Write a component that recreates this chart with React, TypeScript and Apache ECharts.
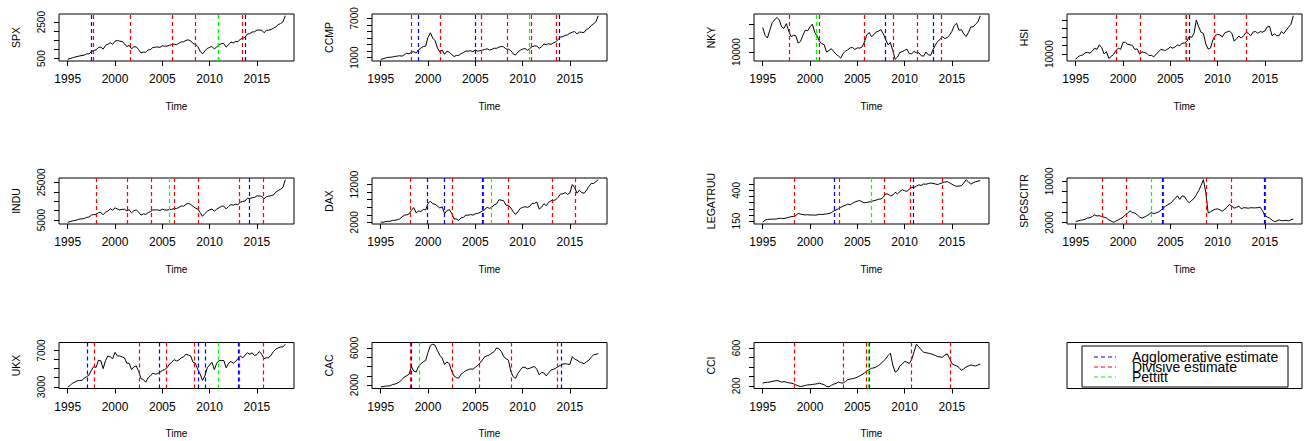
import React, { useEffect, useRef } from "react";
import * as echarts from "echarts";

// ---------- data (quarterly, 1995.00 ... 2018.00) ----------
const START_YEAR = 1995;
const STEP = 0.25;
const X_TICKS = [1995, 2000, 2005, 2010, 2015];

const SPX = [
  465, 501, 545, 584, 616, 645, 671, 687, 766, 757, 885, 947, 980, 1108, 1133, 1017,
  1229, 1286, 1373, 1283, 1455, 1499, 1455, 1436, 1320, 1160, 1224, 1040, 1148, 1147, 990, 815,
  856, 848, 975, 996, 1112, 1126, 1140, 1114, 1202, 1180, 1191, 1228, 1268, 1295, 1270, 1335,
  1418, 1420, 1503, 1527, 1468, 1322, 1280, 1166, 903, 760, 919, 1057, 1115, 1169, 1030, 1141,
  1257, 1325, 1320, 1131, 1257, 1408, 1362, 1440, 1426, 1569, 1606, 1681, 1848, 1872, 1960, 1972,
  2058, 2067, 2063, 1920, 2043, 2059, 2098, 2168, 2238, 2362, 2423, 2519, 2850,
];
const CCMP = [
  750, 820, 935, 1045, 1050, 1100, 1190, 1225, 1290, 1220, 1440, 1680, 1580, 1840, 1900, 1690,
  2190, 2460, 2700, 2750, 4100, 4800, 3970, 3600, 2470, 1840, 2160, 1500, 1980, 1850, 1460, 1170,
  1340, 1340, 1620, 1790, 2000, 1990, 2050, 1900, 2180, 1980, 2060, 2150, 2240, 2350, 2170, 2260,
  2430, 2420, 2600, 2700, 2650, 2280, 2290, 2080, 1580, 1400, 1840, 2120, 2290, 2400, 2110, 2370,
  2690, 2780, 2770, 2420, 2650, 3090, 2950, 3120, 3020, 3260, 3400, 3770, 4160, 4200, 4410, 4490,
  4730, 4880, 4990, 4620, 4900, 4870, 4840, 5310, 5470, 5910, 6140, 6500, 7400,
];
const NKY = [
  18800, 16000, 15000, 17800, 20500, 21500, 22400, 21500, 19000, 18500, 20200, 17500, 15500, 16000, 15800, 13200,
  13800, 16000, 17800, 17600, 19000, 20000, 17000, 15800, 13800, 13000, 12600, 10000, 10500, 11200, 10200, 9200,
  8600, 7800, 9500, 10300, 10800, 11500, 11600, 10900, 11500, 11400, 11800, 13500, 16100, 17000, 15500, 16200,
  17200, 17500, 18000, 16500, 14500, 12600, 13400, 10500, 7400, 8200, 9900, 10100, 10600, 11000, 9400, 9400,
  10200, 9700, 9800, 8700, 8500, 10000, 9000, 8800, 10800, 12500, 13800, 14500, 15500, 14800, 15200, 16000,
  17400, 19500, 20300, 17800, 18000, 16500, 15500, 17000, 19000, 19000, 20000, 20800, 23000,
];
const HSI = [
  7000, 8500, 9200, 9500, 10800, 11000, 10600, 11800, 13500, 12800, 15500, 13800, 10100, 11400, 7500, 8700,
  9800, 12100, 13500, 12800, 16900, 17000, 15800, 15500, 15000, 12800, 13100, 10000, 11300, 11000, 10500, 9100,
  9300, 8500, 9800, 11400, 12800, 12400, 12200, 13100, 14200, 13500, 14200, 15400, 15000, 16300, 16500, 17500,
  20300, 19800, 22100, 30000, 26000, 22800, 22100, 16000, 13000, 13600, 18300, 20900, 21600, 21200, 20100, 22400,
  23000, 23500, 22300, 17600, 19000, 20600, 19400, 20800, 22700, 22300, 20800, 22900, 23300, 22200, 23200, 22900,
  23600, 26000, 26200, 20800, 21900, 20800, 20800, 23300, 22000, 24100, 25800, 27500, 32500,
];
const INDU = [
  3840, 4200, 4560, 4790, 5120, 5590, 5650, 5880, 6450, 6580, 7670, 7950, 7910, 9060, 8950, 7850,
  9180, 9790, 10970, 10340, 11500, 10900, 10450, 10650, 10790, 9880, 10500, 8850, 10020, 10400, 9240, 7590,
  8340, 7990, 9000, 9470, 10450, 10360, 10440, 10080, 10780, 10400, 10300, 10570, 10720, 11110, 11150, 11680,
  12460, 12350, 13400, 13900, 13260, 12260, 11380, 10830, 9030, 7000, 8500, 9710, 10430, 10850, 9770, 10790,
  11580, 12320, 12410, 10910, 12220, 13210, 12880, 13440, 13100, 14580, 14910, 15130, 16580, 16460, 16830, 17040,
  17820, 17780, 17620, 16280, 17430, 17690, 17930, 18310, 19760, 20700, 21350, 22400, 26400,
];
const DAX = [
  2070, 2000, 2180, 2250, 2290, 2490, 2540, 2650, 2900, 3400, 3900, 3950, 4250, 5150, 5900, 4500,
  5000, 4900, 5400, 5300, 7000, 7600, 6900, 6800, 6300, 5800, 6100, 4300, 5100, 5350, 4400, 2900,
  2900, 2500, 3200, 3300, 3950, 3850, 4050, 3900, 4260, 4350, 4600, 5050, 5400, 5970, 5700, 6000,
  6600, 6900, 8000, 7860, 7700, 6530, 6480, 5830, 4810, 4080, 4810, 5670, 5950, 6150, 5960, 6230,
  6990, 7040, 7380, 5500, 6000, 6950, 6400, 7300, 7700, 7800, 7960, 8600, 9500, 9550, 9900, 9400,
  9800, 12000, 11200, 9700, 10500, 9900, 9700, 10500, 11500, 12300, 12300, 12800, 13300,
];
const LEGATRUU = [
  140, 158, 163, 165, 166, 165, 168, 172, 172, 170, 176, 180, 186, 188, 195, 212,
  207, 203, 200, 202, 199, 200, 198, 200, 205, 203, 206, 208, 212, 218, 232, 240,
  250, 262, 272, 278, 289, 282, 295, 305, 312, 318, 306, 300, 302, 305, 310, 316,
  321, 328, 330, 345, 372, 370, 356, 362, 384, 372, 390, 405, 397, 392, 410, 425,
  424, 435, 445, 440, 452, 450, 455, 460, 457, 452, 448, 455, 462, 468, 471, 462,
  450, 440, 433, 436, 438, 460, 487, 470, 450, 462, 470, 475, 480,
];
const SPGSCITR = [
  2200, 2350, 2450, 2550, 2670, 2900, 2950, 3200, 3500, 3300, 3350, 3200, 3070, 2900, 2530, 2300,
  2070, 2300, 2530, 2800, 3070, 3500, 3870, 4300, 3950, 3870, 3530, 3100, 2870, 3100, 3330, 3600,
  4000, 3730, 3900, 4070, 4400, 4800, 5200, 5500, 5730, 6200, 6670, 7200, 6530, 7200, 7070, 6300,
  5870, 6300, 6670, 7400, 8200, 9200, 10330, 7870, 3870, 4100, 4400, 4600, 4670, 4500, 4200, 4600,
  5000, 5530, 5200, 4800, 5000, 5200, 4700, 4900, 4870, 4800, 4900, 4870, 4870, 4900, 5000, 4300,
  3330, 3100, 2870, 2500, 2200, 2300, 2530, 2400, 2400, 2450, 2350, 2550, 2700,
];
const UKX = [
  3000, 3140, 3400, 3510, 3660, 3700, 3710, 3950, 4120, 4300, 4810, 5240, 5140, 5930, 5870, 5000,
  5900, 6400, 6300, 6100, 6800, 6400, 6400, 6300, 6200, 5600, 5600, 4900, 5200, 5300, 4700, 3900,
  3800, 3500, 4000, 4200, 4500, 4400, 4450, 4600, 4800, 4900, 5100, 5500, 5700, 6000, 5850, 5950,
  6200, 6300, 6600, 6500, 6400, 5700, 5600, 4900, 4400, 3700, 4200, 5100, 5400, 5700, 4900, 5600,
  5900, 5900, 5900, 5100, 5600, 5800, 5600, 5800, 6100, 6400, 6200, 6500, 6750, 6600, 6750, 6450,
  6550, 6900, 6600, 6100, 6200, 6200, 6500, 6900, 7150, 7300, 7400, 7400, 7700,
];
const CAC = [
  1810, 1830, 1880, 1900, 1920, 2050, 2100, 2200, 2340, 2600, 2870, 3000, 3170, 4000, 3500, 3400,
  4000, 4300, 4500, 4650, 5500, 6260, 6400, 6300, 5700, 5200, 4900, 4200, 4490, 4300, 3500, 2980,
  2800, 2750, 3170, 3350, 3550, 3650, 3740, 3700, 3920, 4100, 4380, 4700, 5060, 5150, 5250, 5450,
  5620, 6000, 5900, 5620, 5060, 4850, 4680, 3500, 2900, 2720, 3250, 3600, 3920, 3900, 3740, 3800,
  3920, 4000, 3700, 3100, 3360, 3300, 2980, 3300, 3620, 3700, 3810, 4000, 4110, 4250, 4300, 4250,
  4220, 5060, 4800, 4680, 4490, 4400, 4300, 4500, 4680, 5000, 5250, 5300, 5400,
];
const CCI = [
  229, 235, 238, 240, 247, 252, 255, 250, 240, 245, 238, 232, 229, 222, 211, 200,
  193, 198, 204, 210, 211, 215, 218, 222, 229, 220, 211, 195, 190, 205, 218, 225,
  240, 232, 229, 245, 265, 272, 276, 282, 291, 305, 320, 335, 356, 372, 385, 390,
  400, 415, 436, 460, 484, 520, 545, 420, 345, 360, 411, 430, 458, 450, 436, 480,
  560, 640, 611, 580, 556, 550, 545, 540, 531, 520, 509, 505, 502, 525, 538, 490,
  436, 420, 411, 395, 364, 380, 400, 410, 420, 415, 410, 420, 430,
];

// y-axis ticks and which of them carry a label
const SPX_TICKS = [500, 1000, 1500, 2000, 2500];
const SPX_LABELS = [500, 2500];
const CCMP_TICKS = [1000, 2000, 3000, 4000, 5000, 6000, 7000];
const CCMP_LABELS = [1000, 7000];
const NKY_TICKS = [10000, 15000, 20000];
const NKY_LABELS = [10000];
const HSI_TICKS = [10000, 15000, 20000, 25000, 30000];
const HSI_LABELS = [10000];
const INDU_TICKS = [5000, 10000, 15000, 20000, 25000];
const INDU_LABELS = [5000, 25000];
const DAX_TICKS = [2000, 4000, 6000, 8000, 10000, 12000];
const DAX_LABELS = [2000, 12000];
const LEGATRUU_TICKS = [150, 200, 250, 300, 350, 400, 450];
const LEGATRUU_LABELS = [150, 400];
const SPGSCITR_TICKS = [2000, 4000, 6000, 8000, 10000];
const SPGSCITR_LABELS = [2000, 10000];
const UKX_TICKS = [3000, 4000, 5000, 6000, 7000];
const UKX_LABELS = [3000, 7000];
const CAC_TICKS = [2000, 3000, 4000, 5000, 6000];
const CAC_LABELS = [2000, 6000];
const CCI_TICKS = [200, 300, 400, 500, 600];
const CCI_LABELS = [200, 600];

// break dates: agglomerative (blue), divisive (red), Pettitt (green)
const SPX_AGG = [1997.54, 2013.77];
const SPX_DIV = [1997.75, 2001.63, 2006.04, 2008.47, 2010.9, 2013.45];
const SPX_PET = [2010.93];
const CCMP_AGG = [1998.96, 2004.95, 2013.83];
const CCMP_DIV = [1998.19, 2001.27, 2005.65, 2008.35, 2010.9, 2013.58];
const CCMP_PET = [2010.68];
const NKY_AGG = [2008.0, 2013.06];
const NKY_DIV = [1997.79, 2001.0, 2005.74, 2008.78, 2011.32, 2013.83];
const NKY_PET = [2000.69];
const HSI_AGG = [2006.96];
const HSI_DIV = [1999.25, 2001.8, 2006.68, 2009.62, 2013.02];
const HSI_PET = [2006.54];
const INDU_AGG = [2014.15];
const INDU_DIV = [1998.07, 2001.25, 2003.83, 2006.27, 2008.82, 2013.16, 2015.67];
const INDU_PET = [2005.78];
const DAX_AGG = [1999.97, 2001.67, 2005.76];
const DAX_DIV = [1998.14, 2002.55, 2005.83, 2008.47, 2013.17, 2015.56];
const DAX_PET = [2006.64];
const LEGATRUU_AGG = [2002.53, 2010.9];
const LEGATRUU_DIV = [1998.29, 2003.06, 2007.9, 2010.58, 2014.01];
const LEGATRUU_PET = [2006.52];
const SPGSCITR_AGG = [2004.2, 2014.97];
const SPGSCITR_DIV = [1997.83, 2000.31, 2004.27, 2008.8, 2011.39, 2014.99];
const SPGSCITR_PET = [2002.96];
const UKX_AGG = [1997.05, 2004.63, 2008.76, 2009.5, 2013.06];
const UKX_DIV = [1997.82, 2002.51, 2005.41, 2008.4, 2013.08, 2015.63];
const UKX_PET = [2010.87];
const CAC_AGG = [1998.25, 2014.12];
const CAC_DIV = [1998.14, 2002.55, 2005.44, 2008.76, 2013.69];
const CAC_PET = [1999.06];
const CCI_AGG = [2006.31];
const CCI_DIV = [1998.29, 2003.52, 2005.95, 2010.72, 2014.82];
const CCI_PET = [2006.17];

const LEGEND_LABELS = ["Agglomerative estimate", "Divisive estimate", "Pettitt"];

type Panel = {
  name: string;
  values: number[];
  ticks: number[];
  labels: number[];
  agg: number[];
  div: number[];
  pet: number[];
};

const PANELS: Panel[] = [
  { name: "SPX", values: SPX, ticks: SPX_TICKS, labels: SPX_LABELS, agg: SPX_AGG, div: SPX_DIV, pet: SPX_PET },
  { name: "CCMP", values: CCMP, ticks: CCMP_TICKS, labels: CCMP_LABELS, agg: CCMP_AGG, div: CCMP_DIV, pet: CCMP_PET },
  { name: "NKY", values: NKY, ticks: NKY_TICKS, labels: NKY_LABELS, agg: NKY_AGG, div: NKY_DIV, pet: NKY_PET },
  { name: "HSI", values: HSI, ticks: HSI_TICKS, labels: HSI_LABELS, agg: HSI_AGG, div: HSI_DIV, pet: HSI_PET },
  { name: "INDU", values: INDU, ticks: INDU_TICKS, labels: INDU_LABELS, agg: INDU_AGG, div: INDU_DIV, pet: INDU_PET },
  { name: "DAX", values: DAX, ticks: DAX_TICKS, labels: DAX_LABELS, agg: DAX_AGG, div: DAX_DIV, pet: DAX_PET },
  { name: "LEGATRUU", values: LEGATRUU, ticks: LEGATRUU_TICKS, labels: LEGATRUU_LABELS, agg: LEGATRUU_AGG, div: LEGATRUU_DIV, pet: LEGATRUU_PET },
  { name: "SPGSCITR", values: SPGSCITR, ticks: SPGSCITR_TICKS, labels: SPGSCITR_LABELS, agg: SPGSCITR_AGG, div: SPGSCITR_DIV, pet: SPGSCITR_PET },
  { name: "UKX", values: UKX, ticks: UKX_TICKS, labels: UKX_LABELS, agg: UKX_AGG, div: UKX_DIV, pet: UKX_PET },
  { name: "CAC", values: CAC, ticks: CAC_TICKS, labels: CAC_LABELS, agg: CAC_AGG, div: CAC_DIV, pet: CAC_PET },
  { name: "CCI", values: CCI, ticks: CCI_TICKS, labels: CCI_LABELS, agg: CCI_AGG, div: CCI_DIV, pet: CCI_PET },
];

// ---------- layout / style ----------
const FONT = "'Liberation Sans', Arial, Helvetica, sans-serif";
const COL_LEFT = [59, 372, 754, 1067];
const ROW_TOP = [14, 178, 342.5];
const ROW_H = [47, 46, 46];
const BOX_W = 235;
const BLUE = "#0000FF";
const RED = "#FF0000";
const GREEN = "#00FF00";
const DASH = [4, 3];
const plain = (v: number) => String(v);

function buildOption() {
  const nPts = SPX.length;
  const tEnd = START_YEAR + (nPts - 1) * STEP;
  const span = tEnd - START_YEAR;
  const xMin = START_YEAR - 0.04 * span;
  const xMax = tEnd + 0.04 * span;

  const grid: any[] = [];
  const xAxis: any[] = [];
  const yAxis: any[] = [];
  const series: any[] = [];

  PANELS.forEach((p, i) => {
    const r = Math.floor(i / 4);
    const c = i % 4;
    grid.push({
      left: COL_LEFT[c],
      top: ROW_TOP[r],
      width: BOX_W,
      height: ROW_H[r],
      show: true,
      borderColor: "#000",
      borderWidth: 1,
      backgroundColor: "transparent",
    });
    const lo = Math.min(...p.values);
    const hi = Math.max(...p.values);
    const pad = 0.04 * (hi - lo);
    xAxis.push({
      gridIndex: i,
      type: "value",
      min: xMin,
      max: xMax,
      axisLine: { show: false },
      axisTick: { show: true, length: 5, customValues: X_TICKS, lineStyle: { color: "#000", width: 1 } },
      axisLabel: { customValues: X_TICKS, formatter: plain, margin: 12, fontSize: 12, color: "#000", fontFamily: FONT },
      splitLine: { show: false },
      name: "Time",
      nameLocation: "middle",
      nameGap: 40,
      nameTextStyle: { fontSize: 10, color: "#000", fontFamily: FONT },
    });
    yAxis.push({
      gridIndex: i,
      type: "value",
      min: lo - pad,
      max: hi + pad,
      axisLine: { show: false },
      axisTick: { show: true, length: 5, customValues: p.ticks, lineStyle: { color: "#000", width: 1 } },
      axisLabel: {
        customValues: p.labels,
        formatter: plain,
        rotate: 90,
        margin: 13,
        fontSize: 10,
        color: "#000",
        fontFamily: FONT,
      },
      splitLine: { show: false },
      name: p.name,
      nameLocation: "middle",
      nameGap: 38,
      nameTextStyle: { fontSize: 10.5, color: "#000", fontFamily: FONT },
    });
    const marks: any[] = [];
    p.div.forEach((t) => marks.push({ xAxis: t, lineStyle: { color: RED } }));
    p.agg.forEach((t) => marks.push({ xAxis: t, lineStyle: { color: BLUE } }));
    p.pet.forEach((t) => marks.push({ xAxis: t, lineStyle: { color: GREEN } }));
    series.push({
      type: "line",
      xAxisIndex: i,
      yAxisIndex: i,
      data: p.values.map((v, k) => [START_YEAR + k * STEP, v]),
      showSymbol: false,
      symbol: "none",
      silent: true,
      lineStyle: { color: "#000", width: 1 },
      markLine: {
        silent: true,
        symbol: ["none", "none"],
        label: { show: false },
        lineStyle: { type: DASH, width: 1.2 },
        data: marks,
      },
    });
  });

  // legend panel (bottom-right)
  const lx1 = 1094;
  const lx2 = 1116;
  const ly = [357, 367, 377];
  const colors = [BLUE, RED, GREEN];
  const graphic: any[] = [
    {
      type: "rect",
      shape: { x: COL_LEFT[3], y: ROW_TOP[2], width: BOX_W, height: ROW_H[2] },
      style: { fill: "none", stroke: "#000", lineWidth: 1 },
    },
    {
      type: "rect",
      shape: { x: 1082, y: 346, width: 206, height: 41 },
      style: { fill: "#fff", stroke: "#000", lineWidth: 1 },
    },
  ];
  LEGEND_LABELS.forEach((txt, k) => {
    graphic.push({
      type: "line",
      shape: { x1: lx1, y1: ly[k], x2: lx2, y2: ly[k] },
      style: { stroke: colors[k], lineWidth: 1.2, lineDash: DASH },
    });
    graphic.push({
      type: "text",
      x: 1132,
      y: ly[k],
      style: { text: txt, fontSize: 14, fill: "#000", fontFamily: FONT, verticalAlign: "middle", align: "left" },
    });
  });

  return {
    animation: false,
    backgroundColor: "#fff",
    grid,
    xAxis,
    yAxis,
    series,
    graphic,
  };
}

export default function App() {
  const ref = useRef<HTMLDivElement>(null);
  useEffect(() => {
    if (!ref.current) return;
    const chart = echarts.init(ref.current, null, { renderer: "svg" });
    chart.setOption(buildOption() as any);
    return () => chart.dispose();
  }, []);
  return (
    <div
      ref={ref}
      style={{ position: "absolute", left: 0, top: 0, width: 1306, height: 441, background: "#fff" }}
    />
  );
}
